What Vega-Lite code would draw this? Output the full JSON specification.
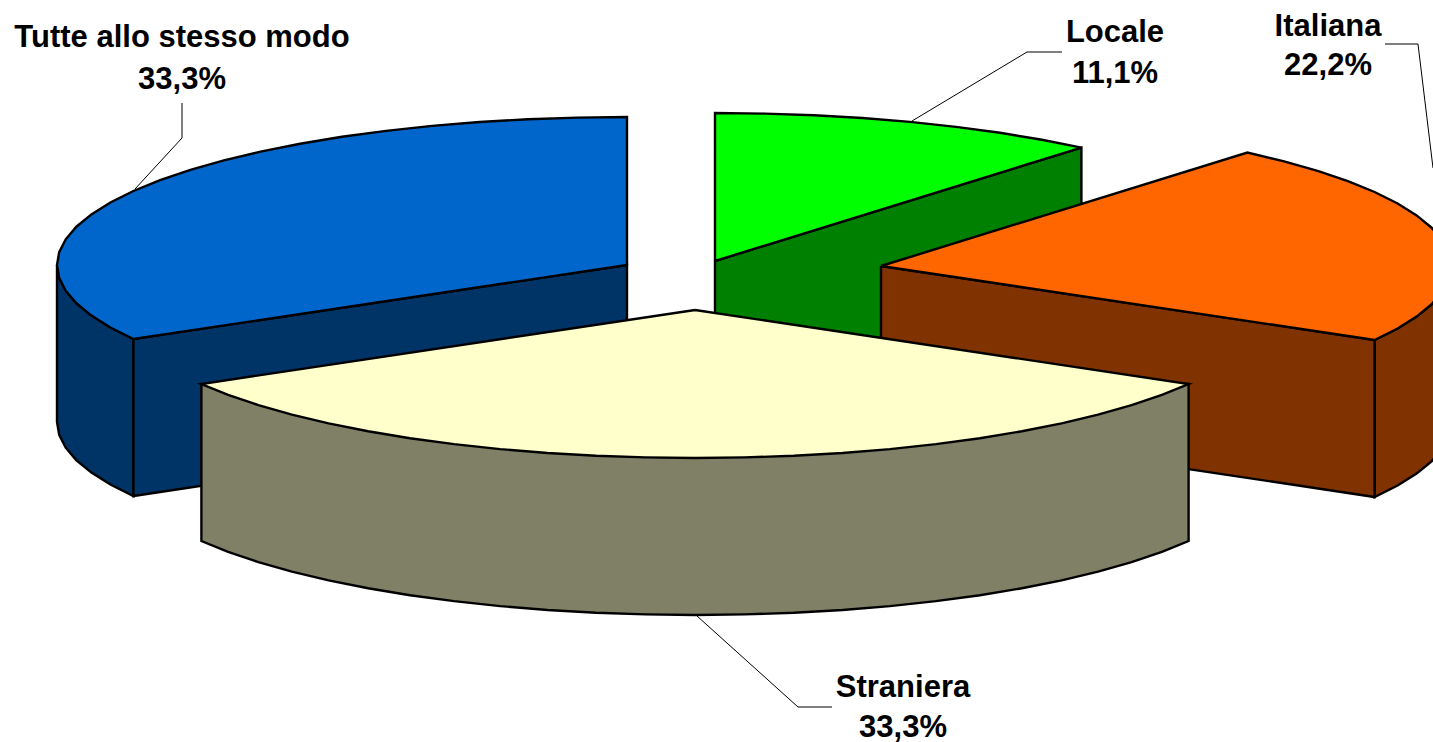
{"$schema":"https://vega.github.io/schema/vega-lite/v6.json","width":1433,"height":742,"autosize":{"type":"none"},"padding":0,"background":"white","view":{"stroke":null},
"datasets":{"shapes":[
{"s":"Locale lato","i":0,"x":715,"y":261},{"s":"Locale lato","i":1,"x":1081.4,"y":147.6},{"s":"Locale lato","i":2,"x":1081.4,"y":304.6},{"s":"Locale lato","i":3,"x":715,"y":418},{"s":"Locale lato","i":4,"x":715,"y":261},
{"s":"Locale","i":0,"x":715,"y":261},{"s":"Locale","i":1,"x":715,"y":113},{"s":"Locale","i":2,"x":764.7,"y":113.6},{"s":"Locale","i":3,"x":814,"y":115.2},{"s":"Locale","i":4,"x":862.5,"y":118},{"s":"Locale","i":5,"x":909.9,"y":121.9},{"s":"Locale","i":6,"x":955.9,"y":126.9},{"s":"Locale","i":7,"x":1000,"y":132.8},{"s":"Locale","i":8,"x":1041.9,"y":139.8},{"s":"Locale","i":9,"x":1081.4,"y":147.6},{"s":"Locale","i":10,"x":715,"y":261},
{"s":"Italiana esterno","i":0,"x":1374.6,"y":340},{"s":"Italiana esterno","i":1,"x":1397.6,"y":328.5},{"s":"Italiana esterno","i":2,"x":1416.6,"y":316.6},{"s":"Italiana esterno","i":3,"x":1431.6,"y":304.3},{"s":"Italiana esterno","i":4,"x":1442.3,"y":291.7},{"s":"Italiana esterno","i":5,"x":1448.8,"y":278.9},{"s":"Italiana esterno","i":6,"x":1451,"y":266},{"s":"Italiana esterno","i":7,"x":1451,"y":423},{"s":"Italiana esterno","i":8,"x":1448.8,"y":435.9},{"s":"Italiana esterno","i":9,"x":1442.3,"y":448.7},{"s":"Italiana esterno","i":10,"x":1431.6,"y":461.3},{"s":"Italiana esterno","i":11,"x":1416.6,"y":473.6},{"s":"Italiana esterno","i":12,"x":1397.6,"y":485.5},{"s":"Italiana esterno","i":13,"x":1374.6,"y":497},{"s":"Italiana esterno","i":14,"x":1374.6,"y":340},
{"s":"Italiana lato","i":0,"x":881,"y":266},{"s":"Italiana lato","i":1,"x":1374.6,"y":340},{"s":"Italiana lato","i":2,"x":1374.6,"y":497},{"s":"Italiana lato","i":3,"x":881,"y":423},{"s":"Italiana lato","i":4,"x":881,"y":266},
{"s":"Italiana","i":0,"x":881,"y":266},{"s":"Italiana","i":1,"x":1247.4,"y":152.6},{"s":"Italiana","i":2,"x":1284.1,"y":161.3},{"s":"Italiana","i":3,"x":1317.6,"y":170.9},{"s":"Italiana","i":4,"x":1347.9,"y":181.1},{"s":"Italiana","i":5,"x":1374.6,"y":192},{"s":"Italiana","i":6,"x":1397.6,"y":203.5},{"s":"Italiana","i":7,"x":1416.6,"y":215.4},{"s":"Italiana","i":8,"x":1431.6,"y":227.7},{"s":"Italiana","i":9,"x":1442.3,"y":240.3},{"s":"Italiana","i":10,"x":1448.8,"y":253.1},{"s":"Italiana","i":11,"x":1451,"y":266},{"s":"Italiana","i":12,"x":1448.8,"y":278.9},{"s":"Italiana","i":13,"x":1442.3,"y":291.7},{"s":"Italiana","i":14,"x":1431.6,"y":304.3},{"s":"Italiana","i":15,"x":1416.6,"y":316.6},{"s":"Italiana","i":16,"x":1397.6,"y":328.5},{"s":"Italiana","i":17,"x":1374.6,"y":340},{"s":"Italiana","i":18,"x":881,"y":266},
{"s":"Tutte esterno","i":0,"x":133.4,"y":339},{"s":"Tutte esterno","i":1,"x":110.4,"y":327.5},{"s":"Tutte esterno","i":2,"x":91.4,"y":315.6},{"s":"Tutte esterno","i":3,"x":76.4,"y":303.3},{"s":"Tutte esterno","i":4,"x":65.7,"y":290.7},{"s":"Tutte esterno","i":5,"x":59.2,"y":277.9},{"s":"Tutte esterno","i":6,"x":57,"y":265},{"s":"Tutte esterno","i":7,"x":57,"y":422},{"s":"Tutte esterno","i":8,"x":59.2,"y":434.9},{"s":"Tutte esterno","i":9,"x":65.7,"y":447.7},{"s":"Tutte esterno","i":10,"x":76.4,"y":460.3},{"s":"Tutte esterno","i":11,"x":91.4,"y":472.6},{"s":"Tutte esterno","i":12,"x":110.4,"y":484.5},{"s":"Tutte esterno","i":13,"x":133.4,"y":496},{"s":"Tutte esterno","i":14,"x":133.4,"y":339},
{"s":"Tutte lato","i":0,"x":133.4,"y":339},{"s":"Tutte lato","i":1,"x":627,"y":265},{"s":"Tutte lato","i":2,"x":627,"y":422},{"s":"Tutte lato","i":3,"x":133.4,"y":496},{"s":"Tutte lato","i":4,"x":133.4,"y":339},
{"s":"Tutte","i":0,"x":627,"y":265},{"s":"Tutte","i":1,"x":627,"y":117},{"s":"Tutte","i":2,"x":577.3,"y":117.6},{"s":"Tutte","i":3,"x":528,"y":119.2},{"s":"Tutte","i":4,"x":479.5,"y":122},{"s":"Tutte","i":5,"x":432.1,"y":125.9},{"s":"Tutte","i":6,"x":386.1,"y":130.9},{"s":"Tutte","i":7,"x":342,"y":136.8},{"s":"Tutte","i":8,"x":300.1,"y":143.8},{"s":"Tutte","i":9,"x":260.6,"y":151.6},{"s":"Tutte","i":10,"x":223.9,"y":160.3},{"s":"Tutte","i":11,"x":190.4,"y":169.9},{"s":"Tutte","i":12,"x":160.1,"y":180.1},{"s":"Tutte","i":13,"x":133.4,"y":191},{"s":"Tutte","i":14,"x":110.4,"y":202.5},{"s":"Tutte","i":15,"x":91.4,"y":214.4},{"s":"Tutte","i":16,"x":76.4,"y":226.7},{"s":"Tutte","i":17,"x":65.7,"y":239.3},{"s":"Tutte","i":18,"x":59.2,"y":252.1},{"s":"Tutte","i":19,"x":57,"y":265},{"s":"Tutte","i":20,"x":59.2,"y":277.9},{"s":"Tutte","i":21,"x":65.7,"y":290.7},{"s":"Tutte","i":22,"x":76.4,"y":303.3},{"s":"Tutte","i":23,"x":91.4,"y":315.6},{"s":"Tutte","i":24,"x":110.4,"y":327.5},{"s":"Tutte","i":25,"x":133.4,"y":339},{"s":"Tutte","i":26,"x":627,"y":265},
{"s":"Straniera lato","i":0,"x":201.4,"y":384},{"s":"Straniera lato","i":1,"x":1188.6,"y":384},{"s":"Straniera lato","i":2,"x":1188.6,"y":541},{"s":"Straniera lato","i":3,"x":1161.9,"y":551.9},{"s":"Straniera lato","i":4,"x":1131.6,"y":562.1},{"s":"Straniera lato","i":5,"x":1098.1,"y":571.7},{"s":"Straniera lato","i":6,"x":1061.6,"y":580.4},{"s":"Straniera lato","i":7,"x":1021.9,"y":588.2},{"s":"Straniera lato","i":8,"x":980,"y":595.2},{"s":"Straniera lato","i":9,"x":935.9,"y":601.1},{"s":"Straniera lato","i":10,"x":889.9,"y":606.1},{"s":"Straniera lato","i":11,"x":842.5,"y":610},{"s":"Straniera lato","i":12,"x":794,"y":612.8},{"s":"Straniera lato","i":13,"x":744.7,"y":614.4},{"s":"Straniera lato","i":14,"x":695,"y":615},{"s":"Straniera lato","i":15,"x":645.3,"y":614.4},{"s":"Straniera lato","i":16,"x":596,"y":612.8},{"s":"Straniera lato","i":17,"x":547.5,"y":610},{"s":"Straniera lato","i":18,"x":500.1,"y":606.1},{"s":"Straniera lato","i":19,"x":454.1,"y":601.1},{"s":"Straniera lato","i":20,"x":410,"y":595.2},{"s":"Straniera lato","i":21,"x":368.1,"y":588.2},{"s":"Straniera lato","i":22,"x":328.6,"y":580.4},{"s":"Straniera lato","i":23,"x":291.9,"y":571.7},{"s":"Straniera lato","i":24,"x":258.4,"y":562.1},{"s":"Straniera lato","i":25,"x":228.1,"y":551.9},{"s":"Straniera lato","i":26,"x":201.4,"y":541},{"s":"Straniera lato","i":27,"x":201.4,"y":384},
{"s":"Straniera","i":0,"x":695,"y":310},{"s":"Straniera","i":1,"x":201.4,"y":384},{"s":"Straniera","i":2,"x":228.1,"y":394.9},{"s":"Straniera","i":3,"x":258.4,"y":405.1},{"s":"Straniera","i":4,"x":291.9,"y":414.7},{"s":"Straniera","i":5,"x":328.6,"y":423.4},{"s":"Straniera","i":6,"x":368.1,"y":431.2},{"s":"Straniera","i":7,"x":410,"y":438.2},{"s":"Straniera","i":8,"x":454.1,"y":444.1},{"s":"Straniera","i":9,"x":500.1,"y":449.1},{"s":"Straniera","i":10,"x":547.5,"y":453},{"s":"Straniera","i":11,"x":596,"y":455.8},{"s":"Straniera","i":12,"x":645.3,"y":457.4},{"s":"Straniera","i":13,"x":695,"y":458},{"s":"Straniera","i":14,"x":744.7,"y":457.4},{"s":"Straniera","i":15,"x":794,"y":455.8},{"s":"Straniera","i":16,"x":842.5,"y":453},{"s":"Straniera","i":17,"x":889.9,"y":449.1},{"s":"Straniera","i":18,"x":935.9,"y":444.1},{"s":"Straniera","i":19,"x":980,"y":438.2},{"s":"Straniera","i":20,"x":1021.9,"y":431.2},{"s":"Straniera","i":21,"x":1061.6,"y":423.4},{"s":"Straniera","i":22,"x":1098.1,"y":414.7},{"s":"Straniera","i":23,"x":1131.6,"y":405.1},{"s":"Straniera","i":24,"x":1161.9,"y":394.9},{"s":"Straniera","i":25,"x":1188.6,"y":384},{"s":"Straniera","i":26,"x":695,"y":310}
],
"leaders":[
{"l":"Tutte","i":0,"x":182,"y":103},{"l":"Tutte","i":1,"x":182,"y":138},{"l":"Tutte","i":2,"x":135,"y":189},
{"l":"Locale","i":0,"x":912,"y":121},{"l":"Locale","i":1,"x":1027,"y":52},{"l":"Locale","i":2,"x":1062,"y":52},
{"l":"Italiana","i":0,"x":1385,"y":44},{"l":"Italiana","i":1,"x":1418,"y":44},{"l":"Italiana","i":2,"x":1433,"y":168},
{"l":"Straniera","i":0,"x":697,"y":616},{"l":"Straniera","i":1,"x":798,"y":707},{"l":"Straniera","i":2,"x":832,"y":707}
],
"labels":[
{"t":"Tutte allo stesso modo","x":182,"y":47},{"t":"33,3%","x":182,"y":89},
{"t":"Locale","x":1115,"y":42},{"t":"11,1%","x":1115,"y":83},
{"t":"Italiana","x":1328,"y":36},{"t":"22,2%","x":1328,"y":75},
{"t":"Straniera","x":903,"y":697},{"t":"33,3%","x":903,"y":737}
]},
"encoding":{"x":{"field":"x","type":"quantitative","scale":{"domain":[0,1433],"nice":false,"zero":false},"axis":null},"y":{"field":"y","type":"quantitative","scale":{"domain":[742,0],"nice":false,"zero":false},"axis":null}},
"layer":[
{"data":{"name":"shapes"},"mark":{"type":"line","clip":true,"stroke":"#000000","strokeWidth":2.4,"strokeJoin":"miter","interpolate":"linear"},"encoding":{"order":{"field":"i","type":"quantitative"},"detail":{"field":"s"},"fill":{"field":"s","type":"nominal","legend":null,"scale":{"domain":["Locale lato","Locale","Italiana esterno","Italiana lato","Italiana","Tutte esterno","Tutte lato","Tutte","Straniera lato","Straniera"],"range":["#008000","#00FF00","#803300","#803300","#FF6600","#003366","#003366","#0066CC","#808066","#FFFFCC"]}}}},
{"data":{"name":"leaders"},"mark":{"type":"line","clip":true,"stroke":"#000000","strokeWidth":1},"encoding":{"order":{"field":"i","type":"quantitative"},"detail":{"field":"l"}}},
{"data":{"name":"labels"},"mark":{"type":"text","font":"Liberation Sans","fontWeight":"bold","fontSize":31,"align":"center","baseline":"alphabetic","color":"#000000"},"encoding":{"text":{"field":"t"}}}
]}
